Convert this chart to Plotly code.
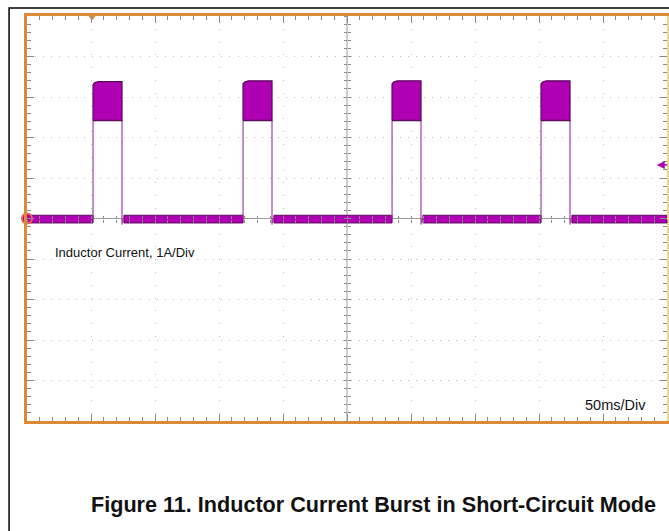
import plotly.graph_objects as go

# ---- data (time in ms, current in A) ----
pulse_start_ms = [51.6, 168.8, 285.2, 401.6]
pulse_end_ms = [74.2, 191.4, 307.8, 424.2]
pulse_top_a = [3.38, 3.4, 3.4, 3.4]
pulse_ripple_low_a = [2.42, 2.42, 2.42, 2.42]
base_hi_a = 0.08
base_lo_a = -0.11
trigger_pos_ms = 50.8
trigger_level_a = 1.32
time_range_ms = [0, 500]
current_range_a = [-5, 5]

MAG = "#b000b4"
DARK = "#5c0a5c"
ORANGE = "#dc8a36"
TICK = "#8a8a8a"

fig = go.Figure()

# baseline band segments between pulses
bx, by = [], []
edges = [time_range_ms[0]] + [v for pair in zip(pulse_start_ms, pulse_end_ms) for v in pair] + [time_range_ms[1]]
for i in range(0, len(edges), 2):
    a, b = edges[i], edges[i + 1]
    a2 = a + (1.5 if i > 0 else 0)
    bx += [a2, b, b, a2, a2, None]
    by += [base_hi_a, base_hi_a, base_lo_a, base_lo_a, base_hi_a, None]
fig.add_trace(go.Scatter(x=bx, y=by, mode="lines", fill="toself", fillcolor=MAG,
                         line=dict(color=DARK, width=1), hoverinfo="skip"))

# pulse edges (thin vertical transitions)
ex, ey = [], []
for s, e, lo in zip(pulse_start_ms, pulse_end_ms, pulse_ripple_low_a):
    ex += [s, s, None, e, e, e + 0.6, None]
    ey += [0, lo, None, lo, -0.15, 0, None]
fig.add_trace(go.Scatter(x=ex, y=ey, mode="lines", line=dict(color="#a040a8", width=1.2),
                         hoverinfo="skip"))

# pulse ripple bands
px, py = [], []
for s, e, top, lo in zip(pulse_start_ms, pulse_end_ms, pulse_top_a, pulse_ripple_low_a):
    px += [s, s, s + 1.2, s + 4, e, e, s, None]
    py += [lo, top - 0.08, top - 0.03, top, top, lo, lo, None]
fig.add_trace(go.Scatter(x=px, y=py, mode="lines", fill="toself", fillcolor=MAG,
                         line=dict(color=DARK, width=1.3), hoverinfo="skip"))

# channel marker at left
fig.add_trace(go.Scatter(x=[time_range_ms[0]], y=[0], mode="markers", cliponaxis=False,
                         marker=dict(size=10, color=MAG, line=dict(color="#f06050", width=2)),
                         hoverinfo="skip"))
# trigger position marker at top
fig.add_trace(go.Scatter(x=[trigger_pos_ms], y=[current_range_a[1]], mode="markers", cliponaxis=False,
                         marker=dict(symbol="triangle-down", size=9, color=ORANGE),
                         hoverinfo="skip"))

# trigger level arrow at right
fig.add_annotation(x=492, y=trigger_level_a, ax=12, ay=0, text="", showarrow=True,
                   arrowhead=2, arrowsize=1, arrowwidth=1.6, arrowcolor=MAG)

fig.add_annotation(x=20.3, y=-0.83, text="Inductor Current, 1A/Div", showarrow=False,
                   xanchor="left", yanchor="middle",
                   font=dict(family="Liberation Sans, Arial", size=13, color="#111"))
fig.add_annotation(x=434, y=-4.6, text="50ms/Div", showarrow=False,
                   xanchor="left", yanchor="middle",
                   font=dict(family="Liberation Sans, Arial", size=14.5, color="#111"))
fig.add_annotation(x=0.542, y=-0.207, xref="paper", yref="paper",
                   text="<b>Figure 11. Inductor Current Burst in Short-Circuit Mode</b>",
                   showarrow=False, xanchor="center", yanchor="middle",
                   font=dict(family="Liberation Sans, Arial", size=21.6, color="#111"))

# outer black frame
fig.add_shape(type="rect", xref="paper", yref="paper", x0=-0.028, x1=1.1, y0=-0.4, y1=1.0198,
              line=dict(color="black", width=1.5), fillcolor="rgba(0,0,0,0)", layer="above")
# center vertical line
fig.add_shape(type="line", x0=250, x1=250, y0=current_range_a[0], y1=current_range_a[1],
              line=dict(color="#9a9a9a", width=1), layer="below")

grid_common = dict(showgrid=True, gridcolor="#bdbdbd", gridwidth=1)
hidden = dict(showticklabels=False, showgrid=False, zeroline=False, fixedrange=True)

fig.update_layout(
    width=669, height=531,
    margin=dict(l=27, r=2, t=16, b=110),
    paper_bgcolor="white", plot_bgcolor="white",
    showlegend=False,
    xaxis=dict(range=time_range_ms, dtick=50, tick0=0, griddash="1px,11.8px",
               showline=True, linecolor=ORANGE, linewidth=3, mirror="ticks",
               ticks="inside", ticklen=7, tickcolor=TICK, tickwidth=1,
               minor=dict(dtick=10, ticks="inside", ticklen=4, tickcolor=TICK, showgrid=False),
               showticklabels=False, zeroline=False, fixedrange=True, **grid_common),
    yaxis=dict(range=current_range_a, dtick=1, tick0=0, griddash="1px,7.1px",
               showline=True, linecolor=ORANGE, linewidth=3, mirror=False,
               ticks="inside", ticklen=7, tickcolor=TICK, tickwidth=1,
               minor=dict(dtick=0.2, ticks="inside", ticklen=4, tickcolor=TICK, showgrid=False),
               showticklabels=False, zeroline=True, zerolinecolor="#9a9a9a", zerolinewidth=1,
               fixedrange=True, **grid_common),
    yaxis4=dict(overlaying="y", anchor="x", side="right", range=current_range_a,
                dtick=1, tick0=0, showline=True, linecolor="#ead98a", linewidth=1.5,
                ticks="inside", ticklen=7, tickcolor=TICK, tickwidth=1,
                minor=dict(dtick=0.2, ticks="inside", ticklen=4, tickcolor=TICK, showgrid=False),
                **hidden),
    xaxis2=dict(overlaying="x", anchor="free", position=0.5, range=time_range_ms,
                dtick=10, tick0=0, ticks="outside", ticklen=3, tickcolor=TICK,
                showline=False, **hidden),
    xaxis3=dict(overlaying="x", anchor="free", position=0.5, range=time_range_ms,
                dtick=10, tick0=0, ticks="inside", ticklen=3, tickcolor=TICK,
                showline=False, **hidden),
    yaxis2=dict(overlaying="y", anchor="free", position=0.5, range=current_range_a,
                dtick=0.2, tick0=0, ticks="outside", ticklen=3, tickcolor=TICK,
                showline=False, **hidden),
    yaxis3=dict(overlaying="y", anchor="free", position=0.5, range=current_range_a,
                dtick=0.2, tick0=0, ticks="inside", ticklen=3, tickcolor=TICK,
                showline=False, **hidden),
)
# invisible traces to activate overlay axes
for xa, ya in [("x2", "y2"), ("x3", "y3"), ("x", "y4")]:
    fig.add_trace(go.Scatter(x=[None], y=[None], xaxis=xa, yaxis=ya, hoverinfo="skip"))

fig.write_html("out.html", config={"displayModeBar": False},
               post_script="document.body.style.margin='0';")
